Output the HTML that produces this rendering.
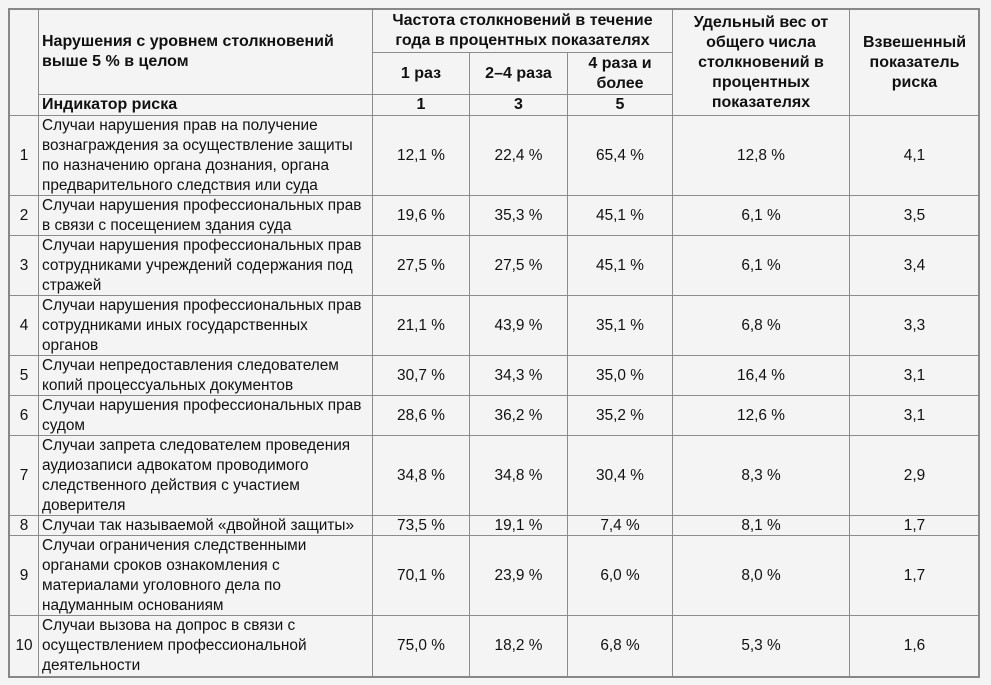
<!DOCTYPE html>
<html><head><meta charset="utf-8">
<style>
html,body{margin:0;padding:0;background:#f4f4f4;width:991px;height:685px;overflow:hidden}
body{font-family:"Liberation Sans",Arial,sans-serif;font-size:15.4px;color:#111;position:relative}
.c{position:absolute;box-sizing:border-box;border:1px solid #8c8c8c;display:flex;align-items:center;justify-content:center;text-align:center;line-height:20px;padding:0 3px;white-space:nowrap}
.l{justify-content:flex-start;text-align:left}
.b{font-weight:bold;font-size:16px}
#frame{position:absolute;left:8px;top:8px;width:972px;height:670px;box-sizing:border-box;border:2px solid #888;pointer-events:none}
</style></head>
<body>
<div id="tbl"></div>
<div id="frame"></div>
<script>
const colX=[9,38,372,469,567,672,849,979];
const rowY=[115,195,235,295,355,395,435,515,535,615,676];
const descs=["Случаи нарушения прав на получение<br>вознаграждения за осуществление защиты<br>по назначению органа дознания, органа<br>предварительного следствия или суда",
"Случаи нарушения профессиональных прав<br>в связи с посещением здания суда",
"Случаи нарушения профессиональных прав<br>сотрудниками учреждений содержания под<br>стражей",
"Случаи нарушения профессиональных прав<br>сотрудниками иных государственных<br>органов",
"Случаи непредоставления следователем<br>копий процессуальных документов",
"Случаи нарушения профессиональных прав<br>судом",
"Случаи запрета следователем проведения<br>аудиозаписи адвокатом проводимого<br>следственного действия с участием<br>доверителя",
"Случаи так называемой «двойной защиты»",
"Случаи ограничения следственными<br>органами сроков ознакомления с<br>материалами уголовного дела по<br>надуманным основаниям",
"Случаи вызова на допрос в связи с<br>осуществлением профессиональной<br>деятельности"];
const once=["12,1 %","19,6 %","27,5 %","21,1 %","30,7 %","28,6 %","34,8 %","73,5 %","70,1 %","75,0 %"];
const twoFour=["22,4 %","35,3 %","27,5 %","43,9 %","34,3 %","36,2 %","34,8 %","19,1 %","23,9 %","18,2 %"];
const fourPlus=["65,4 %","45,1 %","45,1 %","35,1 %","35,0 %","35,2 %","30,4 %","7,4 %","6,0 %","6,8 %"];
const share=["12,8 %","6,1 %","6,1 %","6,8 %","16,4 %","12,6 %","8,3 %","8,1 %","8,0 %","5,3 %"];
const weighted=["4,1","3,5","3,4","3,3","3,1","3,1","2,9","1,7","1,7","1,6"];
const tbl=document.getElementById('tbl');
function cell(x1,y1,x2,y2,html,cls,name){
  const d=document.createElement('div');
  d.className='c '+(cls||'');
  d.style.left=x1+'px';d.style.top=y1+'px';
  d.style.width=(x2-x1+1)+'px';d.style.height=(y2-y1+1)+'px';
  d.innerHTML=html;
  
  
  tbl.appendChild(d);
}
cell(9,9,38,115,'','','header-number-blank');
cell(38,9,372,94,'Нарушения с уровнем столкновений<br>выше 5 % в целом','l b','header-violations');
cell(38,94,372,115,'Индикатор риска','l b','header-risk-indicator');
cell(372,9,672,52,'Частота столкновений в течение<br>года в процентных показателях','b','header-frequency');
cell(372,52,469,94,'1 раз','b','header-once');
cell(469,52,567,94,'2–4 раза','b','header-two-four');
cell(567,52,672,94,'4 раза и<br>более','b','header-four-plus');
cell(372,94,469,115,'1','b','weight-once');
cell(469,94,567,115,'3','b','weight-two-four');
cell(567,94,672,115,'5','b','weight-four-plus');
cell(672,9,849,115,'Удельный вес от<br>общего числа<br>столкновений в<br>процентных<br>показателях','b','header-share');
cell(849,9,979,115,'Взвешенный<br>показатель<br>риска','b','header-weighted-risk');
for(let i=0;i<descs.length;i++){
  const y1=rowY[i],y2=rowY[i+1];
  cell(colX[0],y1,colX[1],y2,String(i+1),'','row-number');
  cell(colX[1],y1,colX[2],y2,descs[i],'l','row-description');
  cell(colX[2],y1,colX[3],y2,once[i],'','value-once');
  cell(colX[3],y1,colX[4],y2,twoFour[i],'','value-two-four');
  cell(colX[4],y1,colX[5],y2,fourPlus[i],'','value-four-plus');
  cell(colX[5],y1,colX[6],y2,share[i],'','value-share');
  cell(colX[6],y1,colX[7],y2,weighted[i],'','value-weighted-risk');
}
</script>
</body></html>
